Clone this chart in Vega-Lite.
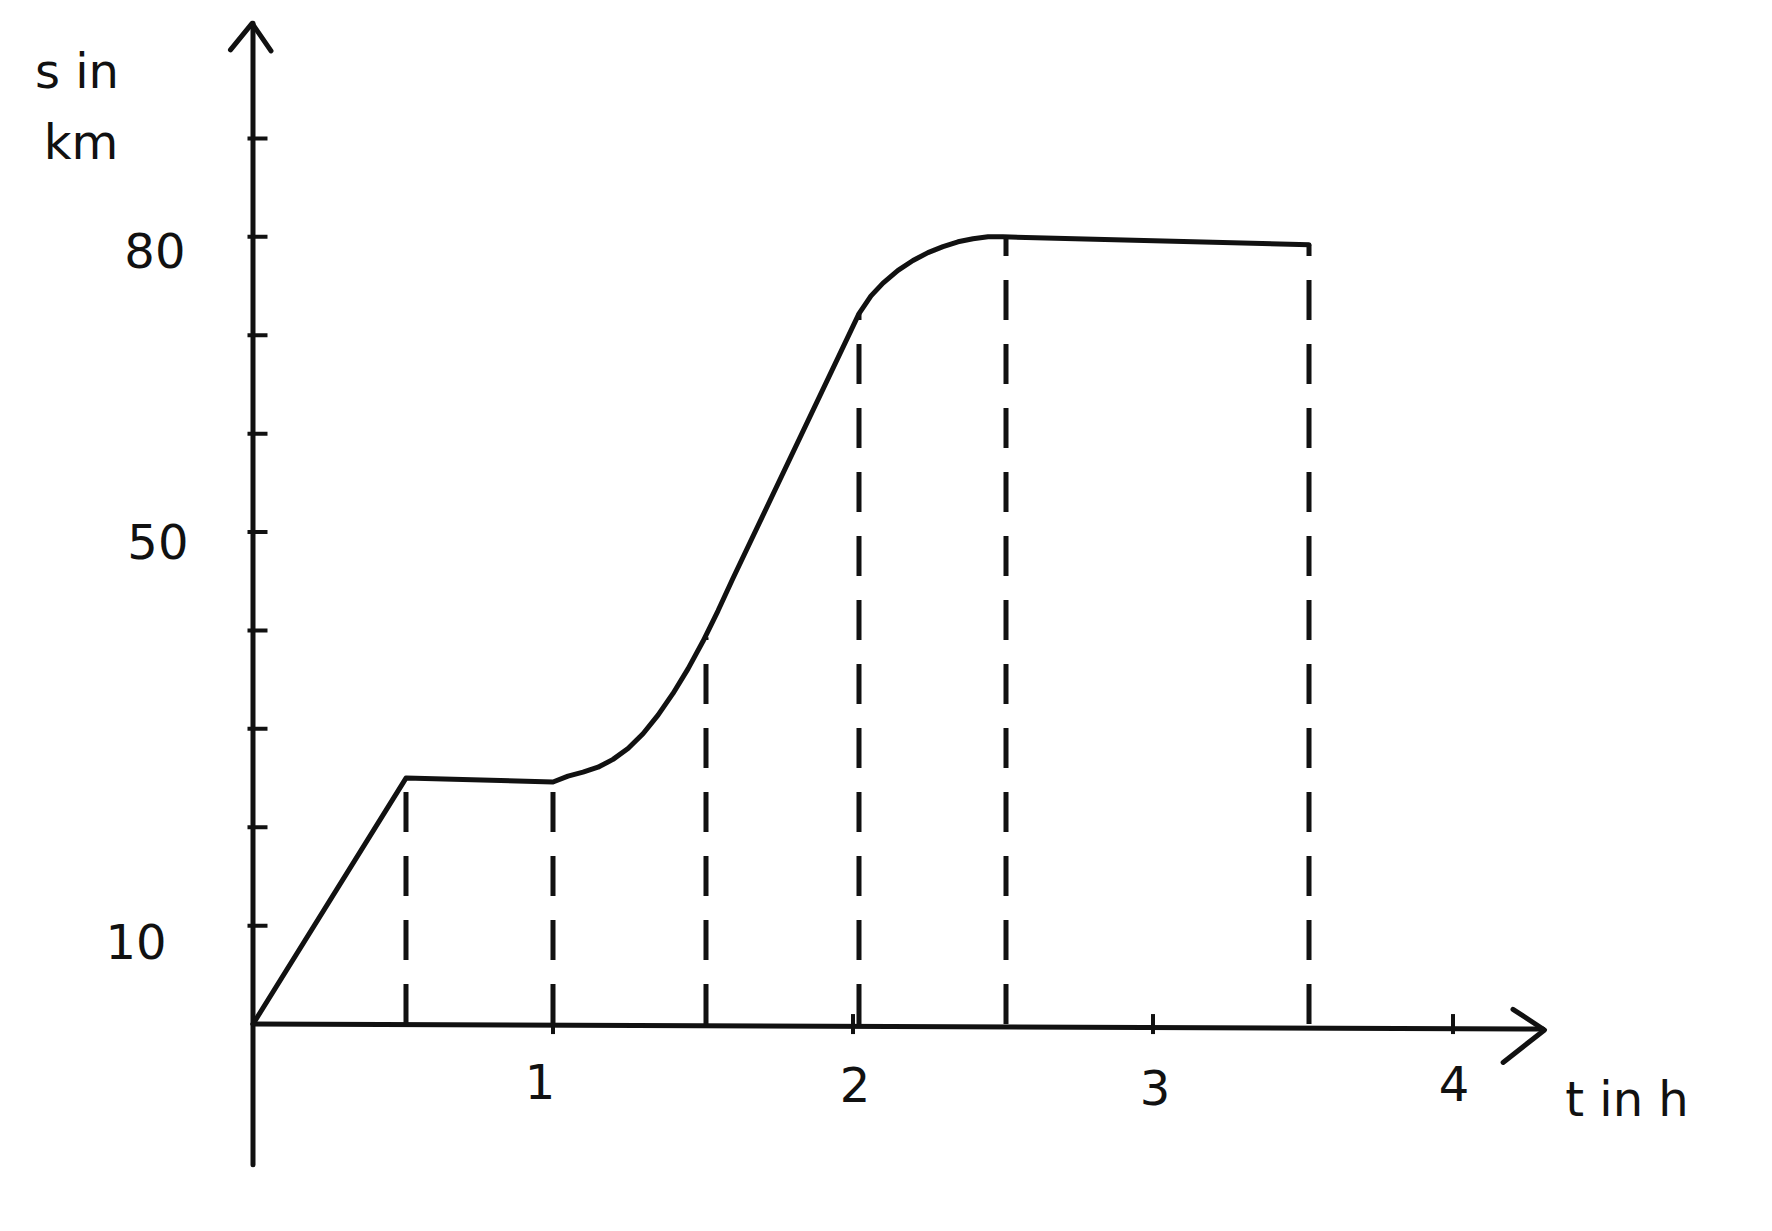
{
  "$schema": "https://vega.github.io/schema/vega-lite/v6.json",
  "width": 1772,
  "height": 1231,
  "autosize": {"type": "fit", "contains": "padding"},
  "padding": 0,
  "background": "white",
  "config": {"view": {"stroke": null}},
  "datasets": {
    "curve": [
      {"t": 0, "s": 0}, {"t": 0.51, "s": 25.0}, {"t": 1.0, "s": 24.6},
      {"t": 1.05, "s": 25.2}, {"t": 1.1, "s": 25.6}, {"t": 1.15, "s": 26.1},
      {"t": 1.2, "s": 26.9}, {"t": 1.25, "s": 28.0}, {"t": 1.3, "s": 29.5},
      {"t": 1.35, "s": 31.4}, {"t": 1.4, "s": 33.6}, {"t": 1.45, "s": 36.1},
      {"t": 1.5, "s": 38.9}, {"t": 1.55, "s": 42.0}, {"t": 1.6, "s": 45.3},
      {"t": 2.02, "s": 72.2}, {"t": 2.06, "s": 74.0}, {"t": 2.1, "s": 75.3},
      {"t": 2.15, "s": 76.6}, {"t": 2.2, "s": 77.6}, {"t": 2.25, "s": 78.4},
      {"t": 2.3, "s": 79.0}, {"t": 2.35, "s": 79.5}, {"t": 2.4, "s": 79.8},
      {"t": 2.45, "s": 80.0}, {"t": 2.5, "s": 80.0}, {"t": 3.52, "s": 79.2}
    ],
    "dashes": [
      {"t": 0.51, "s0": 0, "s1": 25.0},
      {"t": 1.0, "s0": 0, "s1": 24.6},
      {"t": 1.51, "s0": 0, "s1": 39.3},
      {"t": 2.02, "s0": 0, "s1": 72.2},
      {"t": 2.51, "s0": 0, "s1": 80.0},
      {"t": 3.52, "s0": 0, "s1": 79.2}
    ],
    "axes": [
      {"part": "yaxis", "ord": 1, "t": 0, "s": -14.3},
      {"part": "yaxis", "ord": 2, "t": 0, "s": 101.7},
      {"part": "yarrow", "ord": 1, "t": -0.075, "s": 99.0},
      {"part": "yarrow", "ord": 2, "t": -0.003, "s": 101.7},
      {"part": "yarrow", "ord": 3, "t": 0.06, "s": 98.9},
      {"part": "xaxis", "ord": 1, "t": 0, "s": 0},
      {"part": "xaxis", "ord": 2, "t": 4.3, "s": -0.5},
      {"part": "xarrow", "ord": 1, "t": 4.2, "s": 1.5},
      {"part": "xarrow", "ord": 2, "t": 4.305, "s": -0.6},
      {"part": "xarrow", "ord": 3, "t": 4.167, "s": -3.9}
    ],
    "yticks": [
      {"s": 10}, {"s": 20}, {"s": 30}, {"s": 40}, {"s": 50},
      {"s": 60}, {"s": 70}, {"s": 80}, {"s": 90}
    ],
    "xticks": [{"t": 1}, {"t": 2}, {"t": 3}, {"t": 4}],
    "labels": [
      {"t": -0.587, "s": 96.6, "label": "s in"},
      {"t": -0.573, "s": 89.3, "label": "km"},
      {"t": -0.327, "s": 78.3, "label": "80"},
      {"t": -0.317, "s": 48.7, "label": "50"},
      {"t": -0.39, "s": 8.0, "label": "10"},
      {"t": 0.957, "s": -6.2, "label": "1"},
      {"t": 2.007, "s": -6.5, "label": "2"},
      {"t": 3.007, "s": -6.8, "label": "3"},
      {"t": 4.003, "s": -6.4, "label": "4"},
      {"t": 4.58, "s": -7.9, "label": "t in h"}
    ]
  },
  "layer": [
    {
      "data": {"name": "axes"},
      "mark": {"type": "line", "color": "#111", "strokeWidth": 5, "strokeCap": "round", "strokeJoin": "round"},
      "encoding": {
        "x": {"field": "t", "type": "quantitative", "scale": {"domain": [-0.8433, 5.0633], "nice": false, "zero": false}, "axis": null},
        "y": {"field": "s", "type": "quantitative", "scale": {"domain": [-21.03, 104.07], "nice": false, "zero": false}, "axis": null},
        "detail": {"field": "part"},
        "order": {"field": "ord"}
      }
    },
    {
      "data": {"name": "yticks"},
      "mark": {"type": "tick", "orient": "horizontal", "size": 20, "thickness": 4, "color": "#111", "opacity": 1},
      "encoding": {
        "x": {"datum": 0.015, "type": "quantitative"},
        "y": {"field": "s", "type": "quantitative"}
      }
    },
    {
      "data": {"name": "xticks"},
      "mark": {"type": "tick", "orient": "vertical", "size": 20, "thickness": 4, "color": "#111", "opacity": 1},
      "encoding": {
        "x": {"field": "t", "type": "quantitative"},
        "y": {"datum": 0, "type": "quantitative"}
      }
    },
    {
      "data": {"name": "dashes"},
      "mark": {"type": "rule", "color": "#111", "strokeWidth": 5, "strokeDash": [40, 24], "strokeCap": "butt"},
      "encoding": {
        "x": {"field": "t", "type": "quantitative"},
        "y": {"field": "s0", "type": "quantitative"},
        "y2": {"field": "s1"}
      }
    },
    {
      "data": {"name": "curve"},
      "mark": {"type": "line", "color": "#111", "strokeWidth": 5, "strokeCap": "round", "strokeJoin": "round"},
      "encoding": {
        "x": {"field": "t", "type": "quantitative"},
        "y": {"field": "s", "type": "quantitative"},
        "order": {"field": "t"}
      }
    },
    {
      "data": {"name": "labels"},
      "mark": {"type": "text", "font": "DejaVu Sans", "fontSize": 48, "color": "#111", "align": "center", "baseline": "middle"},
      "encoding": {
        "x": {"field": "t", "type": "quantitative"},
        "y": {"field": "s", "type": "quantitative"},
        "text": {"field": "label"}
      }
    }
  ]
}
